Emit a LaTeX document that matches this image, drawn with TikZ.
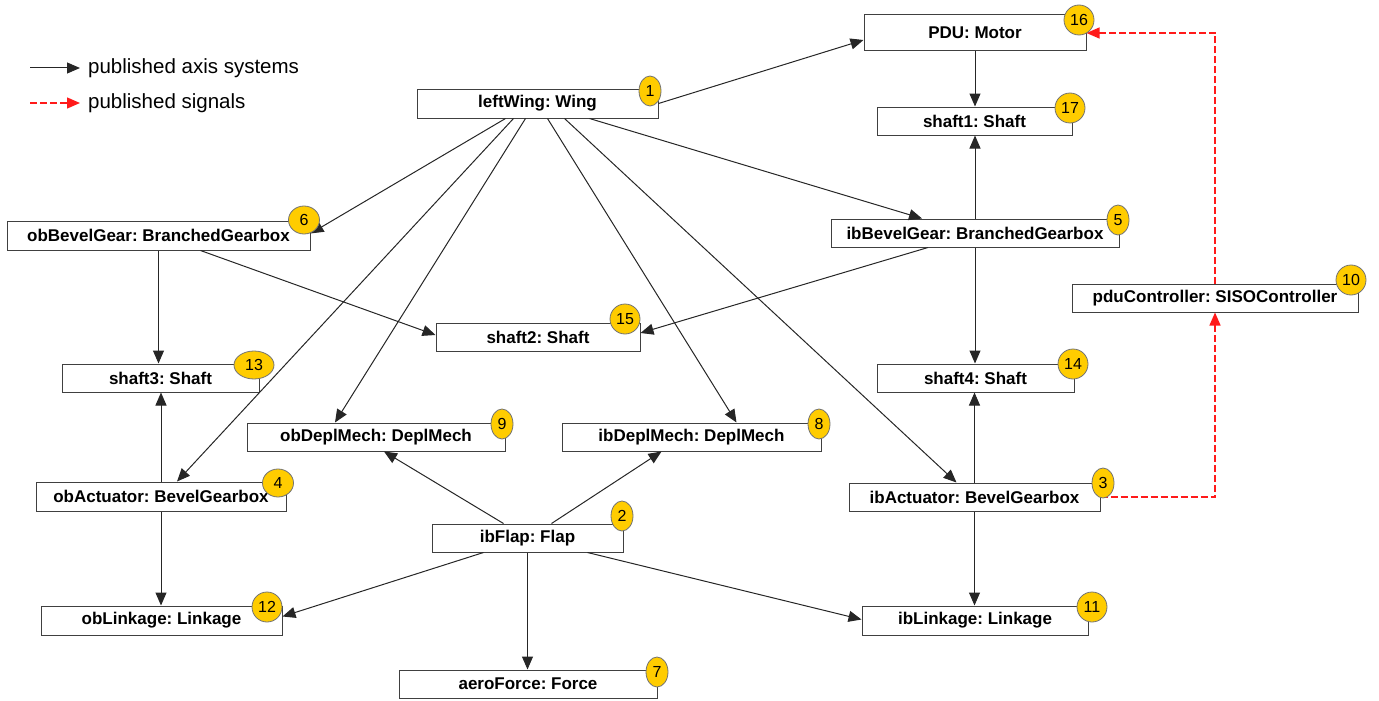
\documentclass[tikz,border=0pt]{standalone}
\usepackage{fontspec}
\setmainfont{Liberation Sans}
\frenchspacing
\usetikzlibrary{arrows.meta,shapes.geometric}
\definecolor{tagyellow}{HTML}{FFCC00}
\definecolor{sigred}{HTML}{FF1A1A}
\tikzset{comp/.style = {draw = black!75, fill = white, line width = 1pt, inner sep = 0, font = \bfseries\fontsize{17}{20}\selectfont}}
\tikzset{tag/.style = {ellipse, draw = black!55, fill = tagyellow, line width = 0.8pt, minimum width = 30pt, minimum height = 30pt, inner sep = 0, font = \fontsize{16}{18}\selectfont}}
\tikzset{thin tag/.style = {tag, minimum width = 22pt}}
\tikzset{axisarrow/.style = {draw = black!85, line width = 1pt, -{Triangle[length = 13pt, width = 11pt]}}}
\tikzset{sigarrow/.style = {draw = sigred, line width = 1.3pt, dash pattern = on 7pt off 3pt, -{Triangle[length = 13pt, width = 11pt]}}}
\tikzset{keytext/.style = {inner sep = 0, anchor = west, font = \fontsize{20.5}{24}\selectfont}}

\begin{document}
\begin{tikzpicture}[x = 1pt, y = -1pt]
    \useasboundingbox (0, 0) rectangle (1379, 701);

    % legend
    \coordinate (keyA) at (30, 68);
    \coordinate (keyB) at (30, 103);
    \node [keytext] (keyAtxt) at (88, 68) {published axis systems};
    \node [keytext] (keyBtxt) at (88, 103) {published signals};
    \draw [axisarrow] (keyA) -- ([xshift = -8pt]keyAtxt.west);
    \draw [sigarrow] (keyB) -- ([xshift = -8pt]keyBtxt.west);

    % components
    \node [comp, minimum width = 222pt, minimum height = 36pt] (pdu) at (975, 33) {PDU: Motor};
    \node [comp, minimum width = 241pt, minimum height = 29pt] (lw) at (537.5, 103.5) {leftWing: Wing};
    \node [comp, minimum width = 195pt, minimum height = 28pt] (s1) at (974.5, 121) {shaft1: Shaft};
    \node [comp, minimum width = 303pt, minimum height = 29pt] (obg) at (158.5, 235.5) {obBevelGear: BranchedGearbox};
    \node [comp, minimum width = 288pt, minimum height = 28pt] (ibg) at (975, 233) {ibBevelGear: BranchedGearbox};
    \node [comp, minimum width = 286pt, minimum height = 28pt] (pduc) at (1215, 298) {pduController: SISOController};
    \node [comp, minimum width = 204pt, minimum height = 28pt] (s2) at (538, 337) {shaft2: Shaft};
    \node [comp, minimum width = 197pt, minimum height = 28pt] (s3) at (160.5, 378) {shaft3: Shaft};
    \node [comp, minimum width = 197pt, minimum height = 28pt] (s4) at (975.5, 378) {shaft4: Shaft};
    \node [comp, minimum width = 258pt, minimum height = 28pt] (obd) at (376, 437) {obDeplMech: DeplMech};
    \node [comp, minimum width = 259pt, minimum height = 28pt] (ibd) at (691.5, 437) {ibDeplMech: DeplMech};
    \node [comp, minimum width = 250pt, minimum height = 29pt] (oba) at (161, 496.5) {obActuator: BevelGearbox};
    \node [comp, minimum width = 251pt, minimum height = 28pt] (iba) at (974.5, 497) {ibActuator: BevelGearbox};
    \node [comp, minimum width = 191pt, minimum height = 28pt] (flap) at (527.5, 538) {ibFlap: Flap};
    \node [comp, minimum width = 241pt, minimum height = 29pt] (obl) at (161.5, 620.5) {obLinkage: Linkage};
    \node [comp, minimum width = 226pt, minimum height = 29pt] (ibl) at (975, 620.5) {ibLinkage: Linkage};
    \node [comp, minimum width = 258pt, minimum height = 28pt] (aero) at (528, 684) {aeroForce: Force};

    % axis systems
    \draw [axisarrow] (lw.east) -- ([yshift = -7pt]pdu.west);
    \draw [axisarrow] ([xshift = -32pt]lw.south) -- ([yshift = 2pt]obg.east);
    \draw [axisarrow] ([xshift = -24pt]lw.south) -- ([xshift = 16pt]oba.north);
    \draw [axisarrow] ([xshift = -12pt]lw.south) -- ([xshift = -41pt]obd.north);
    \draw [axisarrow] ([xshift = 10pt]lw.south) -- ([xshift = 45pt]ibd.north);
    \draw [axisarrow] ([xshift = 27pt]lw.south) -- ([xshift = -18pt]iba.north);
    \draw [axisarrow] ([xshift = 52pt]lw.south) -- ([xshift = -53pt]ibg.north);
    \draw [axisarrow] (pdu.south) -- (pdu.south |- s1.north);
    \draw [axisarrow] (ibg.north) -- (ibg.north |- s1.south);
    \draw [axisarrow] (ibg.south) -- (ibg.south |- s4.north);
    \draw [axisarrow] ([xshift = -47pt]ibg.south) -- ([yshift = 4pt]s2.east);
    \draw [axisarrow] ([xshift = 42pt]obg.south) -- ([yshift = 2pt]s2.west);
    \draw [axisarrow] (obg.south) -- (obg.south |- s3.north);
    \draw [axisarrow] (oba.north) -- (oba.north |- s3.south);
    \draw [axisarrow] (oba.south) -- (oba.south |- obl.north);
    \draw [axisarrow] (iba.north) -- (iba.north |- s4.south);
    \draw [axisarrow] (iba.south) -- (iba.south |- ibl.north);
    \draw [axisarrow] ([xshift = -24pt]flap.north) -- ([xshift = 8pt]obd.south);
    \draw [axisarrow] ([xshift = 24pt]flap.north) -- ([xshift = -30pt]ibd.south);
    \draw [axisarrow] ([xshift = -44pt]flap.south) -- ([yshift = 4pt]obl.east);
    \draw [axisarrow] ([xshift = 60pt]flap.south) -- ([yshift = 1pt]ibl.west);
    \draw [axisarrow] (flap.south) -- (flap.south |- aero.north);

    % signals
    \draw [sigarrow] (iba.east) -| (pduc.south);
    \draw [sigarrow] (pduc.north) |- (pdu.east);

    % numbers
    \node [thin tag] (n1) at (650, 91) {1};
    \node [thin tag] (n2) at (622, 516) {2};
    \node [thin tag] (n3) at (1103, 483) {3};
    \node [tag, minimum width = 31pt, minimum height = 28pt] (n4) at (278, 483) {4};
    \node [thin tag] (n5) at (1118, 220) {5};
    \node [tag, minimum width = 31pt, minimum height = 28pt] (n6) at (304, 220) {6};
    \node [thin tag] (n7) at (657, 672) {7};
    \node [thin tag] (n8) at (819, 424) {8};
    \node [thin tag] (n9) at (502, 424) {9};
    \node [tag] (n10) at (1351, 280) {10};
    \node [tag] (n11) at (1092, 607) {11};
    \node [tag] (n12) at (267, 607) {12};
    \node [tag, minimum width = 40pt, minimum height = 28pt] (n13) at (254, 365) {13};
    \node [tag] (n14) at (1073, 364) {14};
    \node [tag] (n15) at (625, 319) {15};
    \node [tag] (n16) at (1079, 20) {16};
    \node [tag] (n17) at (1070, 108) {17};
\end{tikzpicture}
\end{document}
